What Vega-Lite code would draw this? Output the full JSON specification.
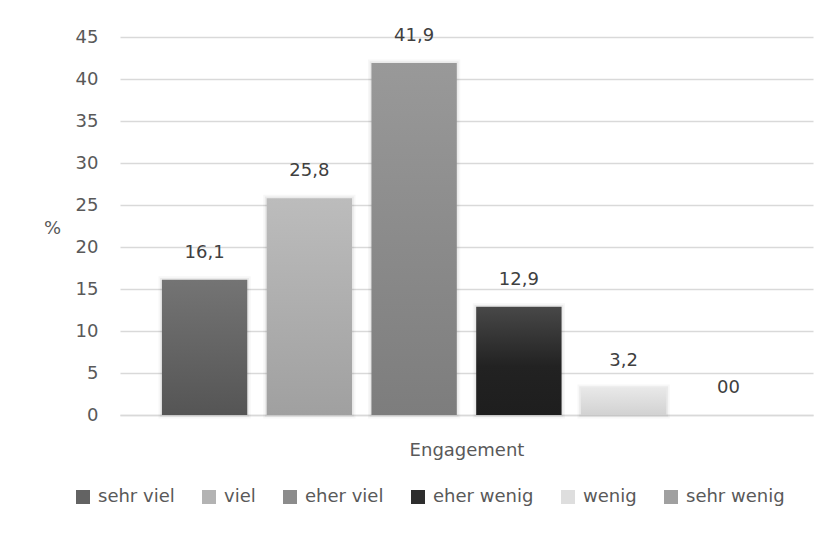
{
  "$schema": "https://vega.github.io/schema/vega-lite/v6.json",
  "width": 693,
  "height": 378,
  "autosize": {"type": "none"},
  "padding": {"left": 120, "top": 37, "right": 18, "bottom": 118},
  "background": "white",
  "config": {
    "font": "DejaVu Sans",
    "view": {"stroke": null},
    "axis": {"labelColor": "#595959", "titleColor": "#595959", "labelFont": "DejaVu Sans", "titleFont": "DejaVu Sans", "titleFontWeight": "normal"},
    "legend": {"labelColor": "#595959", "labelFont": "DejaVu Sans"}
  },
  "data": {
    "values": [
      {"Kategorie": "sehr viel", "Prozent": 16.1, "Beschriftung": "16,1"},
      {"Kategorie": "viel", "Prozent": 25.8, "Beschriftung": "25,8"},
      {"Kategorie": "eher viel", "Prozent": 41.9, "Beschriftung": "41,9"},
      {"Kategorie": "eher wenig", "Prozent": 12.9, "Beschriftung": "12,9"},
      {"Kategorie": "wenig", "Prozent": 3.2, "Beschriftung": "3,2"},
      {"Kategorie": "sehr wenig", "Prozent": 0, "Beschriftung": "00"}
    ]
  },
  "encoding": {
    "x": {
      "field": "Kategorie",
      "type": "nominal",
      "sort": null,
      "scale": {"paddingInner": 0.185, "paddingOuter": 0.4},
      "axis": {
        "title": "Engagement",
        "titleFontSize": 18,
        "titlePadding": 26,
        "labels": false,
        "ticks": false,
        "domainColor": "#d9d9d9",
        "domainWidth": 1.5
      }
    },
    "y": {
      "field": "Prozent",
      "type": "quantitative",
      "scale": {"domain": [0, 45]},
      "axis": {
        "values": [0, 5, 10, 15, 20, 25, 30, 35, 40, 45],
        "title": "%",
        "titleAngle": 0,
        "titleFontSize": 18,
        "titleX": -68,
        "titleY": 191,
        "titleAlign": "center",
        "titleBaseline": "middle",
        "labelFontSize": 18,
        "labelPadding": 22,
        "ticks": false,
        "domain": false,
        "gridColor": "#d9d9d9",
        "gridWidth": 1.3
      }
    }
  },
  "layer": [
    {
      "transform": [{"filter": "datum.Prozent > 0"}],
      "mark": {"type": "bar", "fill": null, "stroke": "#000000", "strokeOpacity": 0.03, "strokeWidth": 7}
    },
    {
      "transform": [{"filter": "datum.Prozent > 0"}],
      "mark": {"type": "bar", "fill": null, "stroke": "#000000", "strokeOpacity": 0.05, "strokeWidth": 3.5}
    },
    {
      "mark": {"type": "bar"},
      "encoding": {
        "color": {
          "condition": [
            {"test": "datum.Kategorie === 'sehr viel'", "value": {"gradient": "linear", "x1": 0, "y1": 0, "x2": 0, "y2": 1, "stops": [{"offset": 0, "color": "#747474"}, {"offset": 1, "color": "#555555"}]}},
            {"test": "datum.Kategorie === 'viel'", "value": {"gradient": "linear", "x1": 0, "y1": 0, "x2": 0, "y2": 1, "stops": [{"offset": 0, "color": "#bcbcbc"}, {"offset": 1, "color": "#a0a0a0"}]}},
            {"test": "datum.Kategorie === 'eher viel'", "value": {"gradient": "linear", "x1": 0, "y1": 0, "x2": 0, "y2": 1, "stops": [{"offset": 0, "color": "#999999"}, {"offset": 1, "color": "#7d7d7d"}]}},
            {"test": "datum.Kategorie === 'eher wenig'", "value": {"gradient": "linear", "x1": 0, "y1": 0, "x2": 0, "y2": 1, "stops": [{"offset": 0, "color": "#484848"}, {"offset": 0.55, "color": "#222222"}, {"offset": 1, "color": "#1e1e1e"}]}},
            {"test": "datum.Kategorie === 'wenig'", "value": {"gradient": "linear", "x1": 0, "y1": 0, "x2": 0, "y2": 1, "stops": [{"offset": 0, "color": "#e8e8e8"}, {"offset": 1, "color": "#d2d2d2"}]}}
          ],
          "field": "Kategorie",
          "type": "nominal",
          "sort": null,
          "scale": {
            "domain": ["sehr viel", "viel", "eher viel", "eher wenig", "wenig", "sehr wenig"],
            "range": ["#636363", "#b3b3b3", "#8c8c8c", "#2e2e2e", "#dedede", "#a0a0a0"]
          },
          "legend": {
            "title": null,
            "orient": "none",
            "direction": "horizontal",
            "legendX": -46,
            "legendY": 451,
            "symbolType": "square",
            "symbolSize": 196,
            "symbolStrokeWidth": 0,
            "symbolOpacity": 1,
            "labelFontSize": 18,
            "labelOffset": 6,
            "columnPadding": 25
          }
        }
      }
    },
    {
      "mark": {"type": "text", "fontSize": 18, "color": "#404040", "baseline": "middle", "dy": -27},
      "encoding": {
        "text": {"field": "Beschriftung"}
      }
    }
  ]
}
